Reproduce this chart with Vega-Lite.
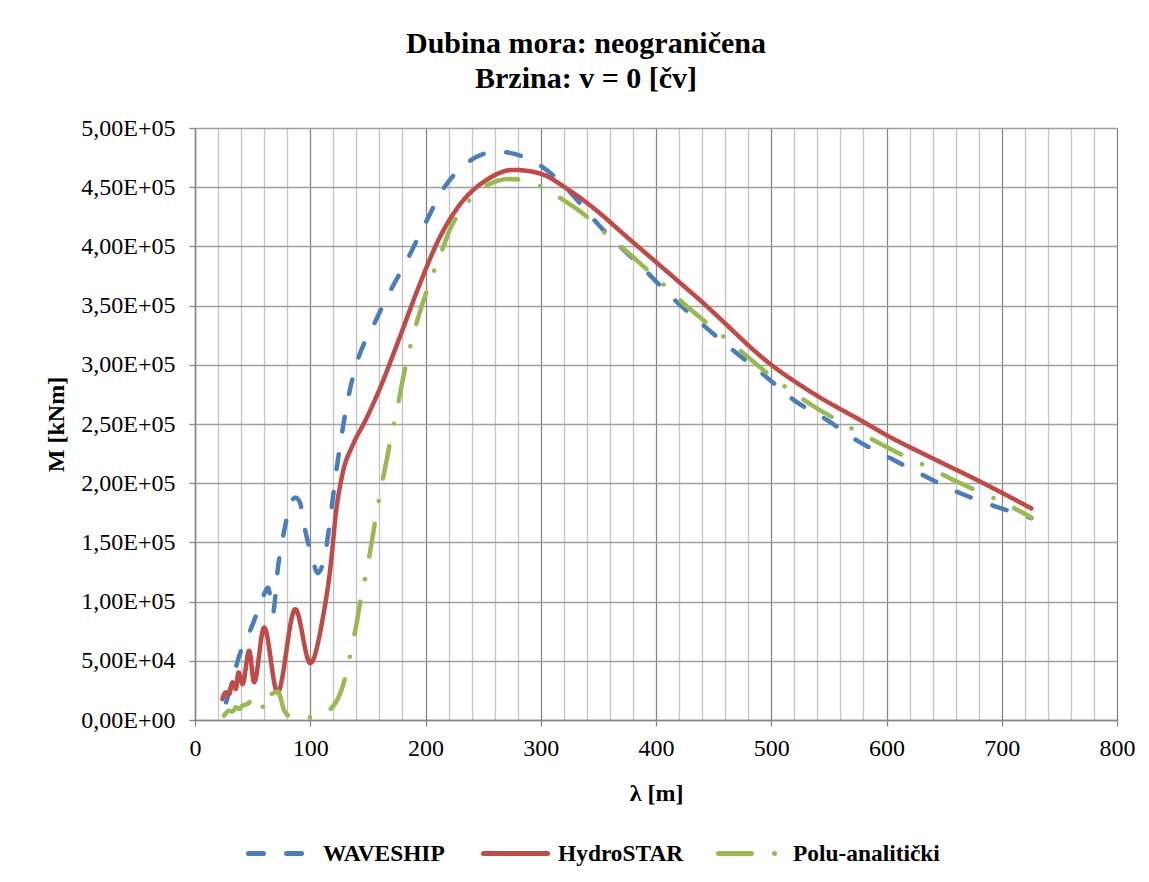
{
  "$schema": "https://vega.github.io/schema/vega-lite/v6.json",
  "width": 922,
  "height": 592,
  "autosize": {"type": "none"},
  "padding": {"left": 195, "top": 128, "right": 32, "bottom": 162},
  "background": "white",
  "title": {
    "text": ["Dubina mora: neograničena", "Brzina: v = 0 [čv]"],
    "font": "Liberation Serif",
    "fontSize": 30,
    "fontWeight": "bold",
    "lineHeight": 35,
    "color": "black",
    "anchor": "middle",
    "dx": -70,
    "offset": 22
  },
  "datasets": {
    "curves": [
      {"series": "WAVESHIP", "lam": 27, "M": 15000},
      {"series": "WAVESHIP", "lam": 32.5, "M": 33000},
      {"series": "WAVESHIP", "lam": 38.3, "M": 54000},
      {"series": "WAVESHIP", "lam": 45.5, "M": 70000},
      {"series": "WAVESHIP", "lam": 51.3, "M": 84000},
      {"series": "WAVESHIP", "lam": 58.6, "M": 103000},
      {"series": "WAVESHIP", "lam": 63.5, "M": 112000},
      {"series": "WAVESHIP", "lam": 67.5, "M": 90000},
      {"series": "WAVESHIP", "lam": 72, "M": 129000},
      {"series": "WAVESHIP", "lam": 77.4, "M": 160000},
      {"series": "WAVESHIP", "lam": 81.8, "M": 179000},
      {"series": "WAVESHIP", "lam": 87, "M": 188000},
      {"series": "WAVESHIP", "lam": 91, "M": 184000},
      {"series": "WAVESHIP", "lam": 94.8, "M": 164000},
      {"series": "WAVESHIP", "lam": 102, "M": 136000},
      {"series": "WAVESHIP", "lam": 106.4, "M": 124000},
      {"series": "WAVESHIP", "lam": 113.6, "M": 144000},
      {"series": "WAVESHIP", "lam": 118, "M": 175000},
      {"series": "WAVESHIP", "lam": 122.3, "M": 208000},
      {"series": "WAVESHIP", "lam": 126.7, "M": 237000},
      {"series": "WAVESHIP", "lam": 132.5, "M": 270000},
      {"series": "WAVESHIP", "lam": 141.2, "M": 304000},
      {"series": "WAVESHIP", "lam": 154.2, "M": 332000},
      {"series": "WAVESHIP", "lam": 168.7, "M": 361000},
      {"series": "WAVESHIP", "lam": 183.2, "M": 387000},
      {"series": "WAVESHIP", "lam": 199.1, "M": 418000},
      {"series": "WAVESHIP", "lam": 215.1, "M": 448000},
      {"series": "WAVESHIP", "lam": 235.4, "M": 470000},
      {"series": "WAVESHIP", "lam": 261.4, "M": 480000},
      {"series": "WAVESHIP", "lam": 273, "M": 479000},
      {"series": "WAVESHIP", "lam": 293.3, "M": 472000},
      {"series": "WAVESHIP", "lam": 310.7, "M": 460000},
      {"series": "WAVESHIP", "lam": 325.2, "M": 446000},
      {"series": "WAVESHIP", "lam": 351.3, "M": 417000},
      {"series": "WAVESHIP", "lam": 390.4, "M": 380000},
      {"series": "WAVESHIP", "lam": 413.8, "M": 357000},
      {"series": "WAVESHIP", "lam": 442.8, "M": 332000},
      {"series": "WAVESHIP", "lam": 468.5, "M": 311000},
      {"series": "WAVESHIP", "lam": 494.2, "M": 291000},
      {"series": "WAVESHIP", "lam": 520, "M": 270000},
      {"series": "WAVESHIP", "lam": 548.9, "M": 253000},
      {"series": "WAVESHIP", "lam": 574.6, "M": 236000},
      {"series": "WAVESHIP", "lam": 603.5, "M": 221000},
      {"series": "WAVESHIP", "lam": 629.3, "M": 208000},
      {"series": "WAVESHIP", "lam": 658.2, "M": 194000},
      {"series": "WAVESHIP", "lam": 687.1, "M": 183000},
      {"series": "WAVESHIP", "lam": 725.7, "M": 170500},

      {"series": "HydroSTAR", "lam": 23.8, "M": 17700},
      {"series": "HydroSTAR", "lam": 26.7, "M": 23300},
      {"series": "HydroSTAR", "lam": 29.6, "M": 21900},
      {"series": "HydroSTAR", "lam": 32.5, "M": 31800},
      {"series": "HydroSTAR", "lam": 35.4, "M": 26100},
      {"series": "HydroSTAR", "lam": 37.7, "M": 40200},
      {"series": "HydroSTAR", "lam": 41.2, "M": 30300},
      {"series": "HydroSTAR", "lam": 47, "M": 58400},
      {"series": "HydroSTAR", "lam": 51.3, "M": 31800},
      {"series": "HydroSTAR", "lam": 60, "M": 78100},
      {"series": "HydroSTAR", "lam": 71.6, "M": 23300},
      {"series": "HydroSTAR", "lam": 87, "M": 93600},
      {"series": "HydroSTAR", "lam": 100, "M": 48000},
      {"series": "HydroSTAR", "lam": 110.7, "M": 85000},
      {"series": "HydroSTAR", "lam": 118, "M": 133000},
      {"series": "HydroSTAR", "lam": 122.3, "M": 175000},
      {"series": "HydroSTAR", "lam": 128, "M": 208000},
      {"series": "HydroSTAR", "lam": 136.8, "M": 232000},
      {"series": "HydroSTAR", "lam": 148.4, "M": 254000},
      {"series": "HydroSTAR", "lam": 160, "M": 279000},
      {"series": "HydroSTAR", "lam": 177.4, "M": 322600},
      {"series": "HydroSTAR", "lam": 194.8, "M": 367600},
      {"series": "HydroSTAR", "lam": 212, "M": 406900},
      {"series": "HydroSTAR", "lam": 229.6, "M": 435000},
      {"series": "HydroSTAR", "lam": 252.8, "M": 456000},
      {"series": "HydroSTAR", "lam": 275.9, "M": 464600},
      {"series": "HydroSTAR", "lam": 299, "M": 461700},
      {"series": "HydroSTAR", "lam": 322.3, "M": 449000},
      {"series": "HydroSTAR", "lam": 351.3, "M": 428000},
      {"series": "HydroSTAR", "lam": 370, "M": 412000},
      {"series": "HydroSTAR", "lam": 400, "M": 386800},
      {"series": "HydroSTAR", "lam": 440, "M": 353000},
      {"series": "HydroSTAR", "lam": 500, "M": 300000},
      {"series": "HydroSTAR", "lam": 539, "M": 274300},
      {"series": "HydroSTAR", "lam": 580, "M": 251800},
      {"series": "HydroSTAR", "lam": 600, "M": 240600},
      {"series": "HydroSTAR", "lam": 640, "M": 221000},
      {"series": "HydroSTAR", "lam": 680, "M": 202000},
      {"series": "HydroSTAR", "lam": 725.7, "M": 178700},

      {"series": "Polu-analitički", "lam": 25.2, "M": 3700},
      {"series": "Polu-analitički", "lam": 29.6, "M": 7900},
      {"series": "Polu-analitički", "lam": 32.5, "M": 7000},
      {"series": "Polu-analitički", "lam": 35.4, "M": 10700},
      {"series": "Polu-analitički", "lam": 38.3, "M": 9300},
      {"series": "Polu-analitički", "lam": 41.2, "M": 12100},
      {"series": "Polu-analitički", "lam": 45.5, "M": 13500},
      {"series": "Polu-analitički", "lam": 52.8, "M": 20500},
      {"series": "Polu-analitički", "lam": 57.1, "M": 17700},
      {"series": "Polu-analitički", "lam": 60, "M": 7900},
      {"series": "Polu-analitički", "lam": 63.5, "M": 19100},
      {"series": "Polu-analitički", "lam": 72, "M": 24000},
      {"series": "Polu-analitički", "lam": 77.4, "M": 7900},
      {"series": "Polu-analitički", "lam": 81.8, "M": 3700},
      {"series": "Polu-analitički", "lam": 87.6, "M": 5000},
      {"series": "Polu-analitički", "lam": 94.8, "M": 2200},
      {"series": "Polu-analitički", "lam": 102, "M": 2200},
      {"series": "Polu-analitički", "lam": 108.5, "M": 4000},
      {"series": "Polu-analitički", "lam": 122.3, "M": 15000},
      {"series": "Polu-analitički", "lam": 129.6, "M": 33000},
      {"series": "Polu-analitički", "lam": 136.8, "M": 65000},
      {"series": "Polu-analitički", "lam": 140.3, "M": 82000},
      {"series": "Polu-analitički", "lam": 143.2, "M": 99000},
      {"series": "Polu-analitički", "lam": 147, "M": 117000},
      {"series": "Polu-analitički", "lam": 151, "M": 137000},
      {"series": "Polu-analitički", "lam": 155, "M": 160000},
      {"series": "Polu-analitički", "lam": 158.5, "M": 180000},
      {"series": "Polu-analitički", "lam": 162.3, "M": 200000},
      {"series": "Polu-analitički", "lam": 166, "M": 218000},
      {"series": "Polu-analitički", "lam": 169.3, "M": 235000},
      {"series": "Polu-analitički", "lam": 176.5, "M": 268000},
      {"series": "Polu-analitički", "lam": 179.7, "M": 284600},
      {"series": "Polu-analitički", "lam": 191.9, "M": 334000},
      {"series": "Polu-analitički", "lam": 197.1, "M": 350800},
      {"series": "Polu-analitički", "lam": 203.5, "M": 369000},
      {"series": "Polu-analitički", "lam": 215.1, "M": 398600},
      {"series": "Polu-analitički", "lam": 221.4, "M": 414900},
      {"series": "Polu-analitički", "lam": 232.5, "M": 432300},
      {"series": "Polu-analitički", "lam": 254.2, "M": 452000},
      {"series": "Polu-analitički", "lam": 272.5, "M": 457000},
      {"series": "Polu-analitički", "lam": 293.3, "M": 453400},
      {"series": "Polu-analitički", "lam": 319.4, "M": 439300},
      {"series": "Polu-analitički", "lam": 335.4, "M": 428600},
      {"series": "Polu-analitički", "lam": 356, "M": 411000},
      {"series": "Polu-analitički", "lam": 375.2, "M": 395200},
      {"series": "Polu-analitički", "lam": 388.1, "M": 384000},
      {"series": "Polu-analitički", "lam": 404.2, "M": 369900},
      {"series": "Polu-analitički", "lam": 426.7, "M": 349400},
      {"series": "Polu-analitički", "lam": 441.2, "M": 337600},
      {"series": "Polu-analitički", "lam": 455.6, "M": 326300},
      {"series": "Polu-analitički", "lam": 481.4, "M": 305200},
      {"series": "Polu-analitički", "lam": 495.2, "M": 294000},
      {"series": "Polu-analitički", "lam": 510.3, "M": 282700},
      {"series": "Polu-analitički", "lam": 537.6, "M": 264500},
      {"series": "Polu-analitički", "lam": 553.7, "M": 255200},
      {"series": "Polu-analitički", "lam": 569.8, "M": 246200},
      {"series": "Polu-analitički", "lam": 598.7, "M": 231300},
      {"series": "Polu-analitički", "lam": 615.8, "M": 222800},
      {"series": "Polu-analitički", "lam": 632.5, "M": 215300},
      {"series": "Polu-analitički", "lam": 661.4, "M": 201200},
      {"series": "Polu-analitički", "lam": 679.1, "M": 193300},
      {"series": "Polu-analitički", "lam": 696.8, "M": 185700},
      {"series": "Polu-analitički", "lam": 725.7, "M": 171100}
    ]
  },
  "data": {"name": "curves"},
  "mark": {"type": "line", "interpolate": "monotone", "strokeWidth": 4.5, "strokeCap": "round", "strokeJoin": "round"},
  "encoding": {
    "x": {
      "field": "lam",
      "type": "quantitative",
      "scale": {"domain": [0, 800], "nice": false, "zero": false},
      "axis": {
        "values": [0,20,40,60,80,100,120,140,160,180,200,220,240,260,280,300,320,340,360,380,400,420,440,460,480,500,520,540,560,580,600,620,640,660,680,700,720,740,760,780,800],
        "labelExpr": "datum.value % 100 === 0 ? datum.label : ''",
        "labelOverlap": false,
        "labelFlush": false,
        "grid": true,
        "gridColor": {"condition": {"test": "datum.value % 100 === 0", "value": "#878787"}, "value": "#C4C4C4"},
        "gridWidth": 1.3,
        "tickOpacity": {"condition": {"test": "datum.value % 100 === 0", "value": 1}, "value": 0},
        "tickColor": "#878787",
        "tickSize": 6,
        "tickWidth": 1.3,
        "domainColor": "#878787",
        "domainWidth": 1.5,
        "labelFont": "Liberation Serif",
        "labelFontSize": 24,
        "labelColor": "black",
        "labelPadding": 10,
        "title": "λ [m]",
        "titleFont": "Liberation Serif",
        "titleFontSize": 24,
        "titleFontWeight": "bold",
        "titleColor": "black",
        "titleX": 461,
        "titleY": 73,
        "titleBaseline": "middle",
        "titleAlign": "center"
      }
    },
    "y": {
      "field": "M",
      "type": "quantitative",
      "scale": {"domain": [0, 500000], "nice": false},
      "axis": {
        "values": [0,50000,100000,150000,200000,250000,300000,350000,400000,450000,500000],
        "labelExpr": "datum.value == 0 ? '0,00E+00' : replace(format(datum.value / pow(10, floor(log(datum.value) / LN10 + 1e-9)), '.2f'), '.', ',') + 'E+0' + floor(log(datum.value) / LN10 + 1e-9)",
        "labelOverlap": false,
        "grid": true,
        "gridColor": "#A0A0A0",
        "gridWidth": 1.3,
        "tickColor": "#878787",
        "tickSize": 6,
        "tickWidth": 1.3,
        "domainColor": "#878787",
        "domainWidth": 1.5,
        "labelFont": "Liberation Serif",
        "labelFontSize": 24,
        "labelColor": "black",
        "labelPadding": 14,
        "title": "M [kNm]",
        "titleFont": "Liberation Serif",
        "titleFontSize": 24,
        "titleFontWeight": "bold",
        "titleColor": "black",
        "titleX": -139,
        "titleY": 296,
        "titleBaseline": "middle",
        "titleAlign": "center",
        "titleAngle": 270
      }
    },
    "color": {
      "field": "series",
      "type": "nominal",
      "scale": {"domain": ["WAVESHIP", "HydroSTAR", "Polu-analitički"], "range": ["#4A7EBB", "#BE4B48", "#98B954"]},
      "legend": {
        "orient": "none",
        "legendX": 51,
        "legendY": 691,
        "direction": "horizontal",
        "columns": 3,
        "gridAlign": "all",
        "title": null,
        "symbolType": "stroke",
        "symbolSize": 4096,
        "symbolStrokeWidth": 5,
        "labelFont": "Liberation Serif",
        "labelFontSize": 23.4,
        "labelFontWeight": "bold",
        "labelColor": "black",
        "labelOffset": 8,
        "labelLimit": 400,
        "columnPadding": 3,
        "encode": {"symbols": {"update": {"strokeCap": {"value": "round"}}}}
      }
    },
    "strokeDash": {
      "field": "series",
      "type": "nominal",
      "scale": {"domain": ["WAVESHIP", "HydroSTAR", "Polu-analitički"], "range": [[15, 23], [1, 0], [33, 23, 0.1, 23]]},
      "legend": {
        "orient": "none",
        "legendX": 51,
        "legendY": 691,
        "direction": "horizontal",
        "columns": 3,
        "gridAlign": "all",
        "title": null,
        "symbolType": "stroke",
        "symbolSize": 4096,
        "symbolStrokeWidth": 5,
        "labelFont": "Liberation Serif",
        "labelFontSize": 23.4,
        "labelFontWeight": "bold",
        "labelColor": "black",
        "labelOffset": 8,
        "labelLimit": 400,
        "columnPadding": 3,
        "encode": {"symbols": {"update": {"strokeCap": {"value": "round"}}}}
      }
    }
  },
  "config": {"view": {"stroke": null}}
}
